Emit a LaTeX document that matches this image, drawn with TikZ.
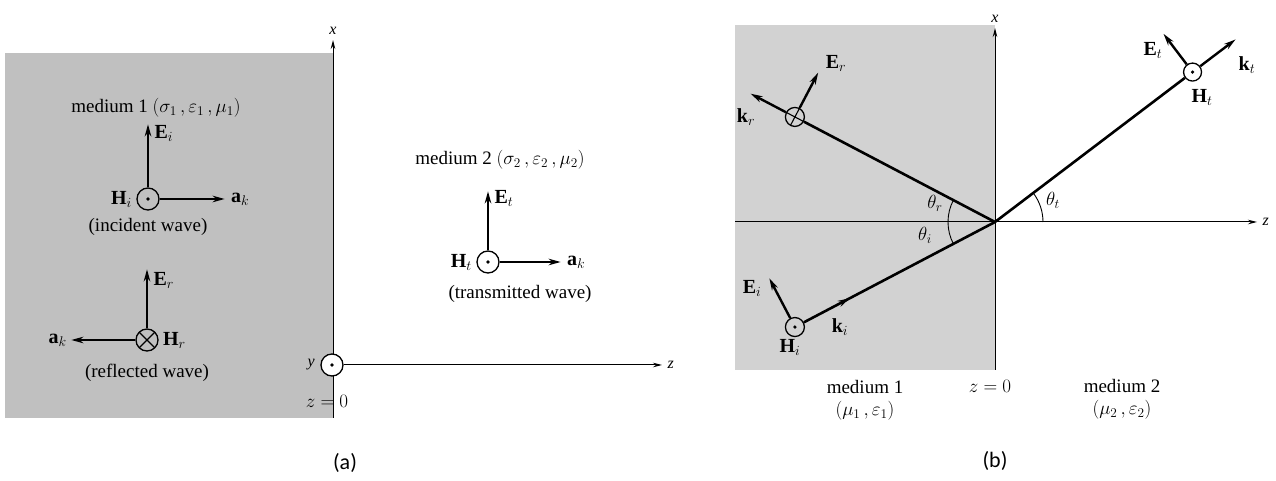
\RequirePackage{fix-cm}
\documentclass[tikz,border=0pt]{standalone}
\usepackage{fontspec}
\setmainfont{Liberation Serif}
\newfontfamily\capfont{Carlito}
\usepackage{amsmath}
\usepackage{xcolor}
\usepackage{tikz}
\usetikzlibrary{positioning,arrows.meta,calc,decorations.markings}
\definecolor{cmedA}{RGB}{192,192,192}
\definecolor{cmedB}{RGB}{210,210,210}
\newcommand{\vlab}[2]{\textbf{#1}$_{#2}$}

\begin{document}
\begin{tikzpicture}[
  x=1pt,y=1pt,
  font=\fontsize{19}{22}\selectfont,
  vec/.style={-{Stealth[length=12pt,width=6.5pt]},line width=2.4pt},
  ray/.style={line width=2.6pt},
  ax/.style={-{Stealth[length=9pt,width=4.5pt]},line width=1pt},
  fout/.style={circle,draw,line width=1.3pt,minimum size=22pt,inner sep=0,
    path picture={\fill[black] (path picture bounding box.center) circle (1.8pt);}},
  fin/.style={circle,draw,line width=1.3pt,minimum size=22pt,inner sep=0,
    path picture={\draw[line width=1.2pt] (path picture bounding box.south west)--(path picture bounding box.north east)
      (path picture bounding box.north west)--(path picture bounding box.south east);}},
  finr/.style={circle,draw,line width=1.3pt,minimum size=19pt,inner sep=0,
    path picture={\draw[line width=1.1pt] (path picture bounding box.center) ++(62.3:12) -- ++(242.3:24)
      (path picture bounding box.center) ++(152.3:12) -- ++(-27.7:24);}},
  midarr/.style={postaction={decorate},decoration={markings,
    mark=at position 0.24 with {\arrow{Stealth[length=12pt,width=6.5pt]}}}},
  vl/.style={font=\fontsize{20}{22}\selectfont},
  axl/.style={font=\fontsize{16}{18}\selectfont\itshape},
  ang/.style={line width=0.9pt},
  sublbl/.style={font=\fontsize{22}{26}\selectfont\capfont},
]
\useasboundingbox (0,0) rectangle (1276,481);
% --- (a) normal incidence ---
\begin{scope}[local bounding box=PA]
  \fill[cmedA] (5,63) rectangle (333,428);
  \coordinate (xaB) at (333,63); \coordinate (xa) at (333,441);
  \draw[ax] (xaB) -- (xa);
  \node[fout,fill=white] (Oa) at (332,116) {};
  \coordinate (za) at (662,116);
  \draw[ax] (Oa) -- (za);
  \node[axl,above=2pt of xa] (xla) {x};
  \node[axl,left=2pt of Oa] (yla) {y};
  \node[axl,right=2pt of za] (zla) {z};
  \node (z0a) at (327,80) {$z = 0$};
  \node (m1a) at (156,373) {medium 1 $(\sigma_1\,,\varepsilon_1\,,\mu_1)$};
  \node[fout] (Hia) at (148,282) {};
  \coordinate[above=63pt of Hia] (Eia); \coordinate[right=65pt of Hia] (akia);
  \draw[vec] (Hia) -- (Eia); \draw[vec] (Hia) -- (akia);
  \node[vl,right=3pt of Eia,yshift=-9pt] (Eial) {\vlab{E}{i}};
  \node[vl,left=1pt of Hia] (Hial) {\vlab{H}{i}};
  \node[vl,right=3pt of akia] (akial) {\vlab{a}{k}};
  \node[below=4pt of Hia] (inca) {(incident wave)};
  \node[fin] (Hra) at (147,141) {};
  \coordinate[above=59pt of Hra] (Era); \coordinate[left=64pt of Hra] (akra);
  \draw[vec] (Hra) -- (Era); \draw[vec] (Hra) -- (akra);
  \node[vl,right=3pt of Era,yshift=-11pt] (Eral) {\vlab{E}{r}};
  \node[vl,right=1pt of Hra] (Hral) {\vlab{H}{r}};
  \node[vl,left=1pt of akra] (akral) {\vlab{a}{k}};
  \node[below=9pt of Hra] (refa) {(reflected wave)};
  \node (m2a) at (500,321) {medium 2 $(\sigma_2\,,\varepsilon_2\,,\mu_2)$};
  \node[fout] (Hta) at (488,219) {};
  \coordinate[above=59pt of Hta] (Eta); \coordinate[right=61pt of Hta] (akta);
  \draw[vec] (Hta) -- (Eta); \draw[vec] (Hta) -- (akta);
  \node[vl,right=3pt of Eta,yshift=-7pt] (Etal) {\vlab{E}{t}};
  \node[vl,left=1pt of Hta] (Htal) {\vlab{H}{t}};
  \node[vl,right=3pt of akta] (aktal) {\vlab{a}{k}};
  \node[below=8pt of Hta,xshift=32pt] (tra) {(transmitted wave)};
\end{scope}
\node[sublbl] (capa) at (345,18) {(a)};
% --- (b) oblique incidence ---
\begin{scope}[local bounding box=PB]
  \fill[cmedB] (735,111) rectangle (995,456);
  \coordinate (O) at (995,259);
  \coordinate (xbB) at (995,111); \coordinate (xb) at (995,453);
  \coordinate (zbL) at (735,259); \coordinate (zb) at (1257,259);
  \draw[ax] (xbB) -- (xb); \draw[ax] (zbL) -- (zb);
  \node[axl,above=2pt of xb] (xlb) {x};
  \node[axl,right=2pt of zb] (zlb) {z};
  \node[finr] (Hrb) at ($(O)+(152.3:226)$) {};
  \node[fout,minimum size=19pt] (Hib) at ($(O)+(207.7:226)$) {};
  \node[fout,minimum size=18pt] (Htb) at ($(O)+(37.2:248)$) {};
  \coordinate (krb) at ($(Hrb)+(152.3:50)$); \coordinate (Erb) at ($(Hrb)+(62.3:50)$);
  \coordinate (Eib) at ($(Hib)+(117.7:55)$);
  \coordinate (ktb) at ($(Htb)+(37.2:54)$); \coordinate (Etb) at ($(Htb)+(127.2:48)$);
  \draw[ray] (O) -- (Hrb); \draw[ray,midarr] (Hib) -- (O); \draw[ray] (O) -- (Htb);
  \draw[vec] (Hrb) -- (krb); \draw[vec] (Hrb) -- (Erb);
  \draw[vec] (Hib) -- (Eib);
  \draw[vec] (Htb) -- (ktb); \draw[vec] (Htb) -- (Etb);
  \draw[ang] ($(O)+(180:47)$) arc (180:152.3:47);
  \draw[ang] ($(O)+(180:47)$) arc (180:207.7:47);
  \draw[ang] ($(O)+(0:48)$) arc (0:37.2:48);
  \node (thr) at (935,278) {$\theta_r$};
  \node (thi) at (925,246) {$\theta_i$};
  \node (tht) at (1053,281) {$\theta_t$};
  \node[vl] (krbl) at (746,364) {\vlab{k}{r}};
  \node[vl] (Erbl) at (836,418) {\vlab{E}{r}};
  \node[vl] (kibl) at (840,154) {\vlab{k}{i}};
  \node[vl] (Eibl) at (752,193) {\vlab{E}{i}};
  \node[vl] (Hibl) at (790,134) {\vlab{H}{i}};
  \node[vl] (Etbl) at (1153,431) {\vlab{E}{t}};
  \node[vl] (ktbl) at (1247,416) {\vlab{k}{t}};
  \node[vl] (Htbl) at (1202,384) {\vlab{H}{t}};
  \node[align=center] (m1b) at (865,81) {medium 1\\$(\mu_1\,,\varepsilon_1)$};
  \node (z0b) at (990,95) {$z = 0$};
  \node[align=center] (m2b) at (1122,82) {medium 2\\$(\mu_2\,,\varepsilon_2)$};
\end{scope}
\node[sublbl] (capb) at (995,20) {(b)};
\end{tikzpicture}
\end{document}
